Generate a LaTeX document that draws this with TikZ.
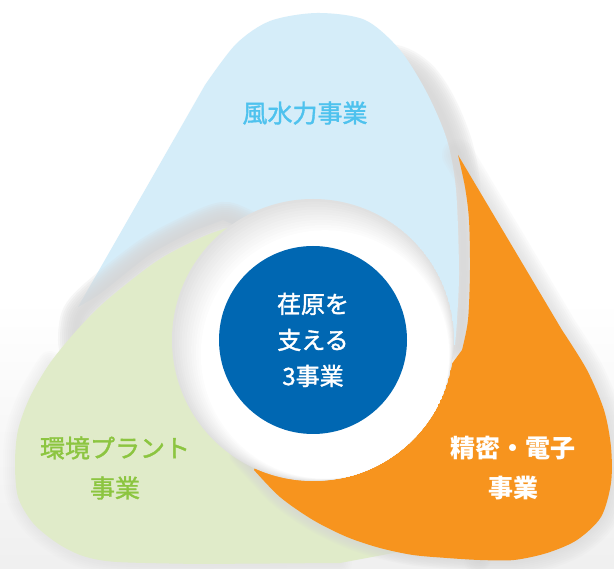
\documentclass[tikz,border=0pt]{standalone}
\usepackage{fontspec}
\setmainfont{Noto Sans CJK JP}
\newfontfamily\jpmed[FakeBold=1.5]{Noto Sans CJK JP}
\usetikzlibrary{calc}
\definecolor{windc}{HTML}{D5EDF9}
\definecolor{windt}{HTML}{4EC2EE}
\definecolor{plantc}{HTML}{E0EBC9}
\definecolor{plantt}{HTML}{8CC540}
\definecolor{precc}{HTML}{F7941E}
\definecolor{corec}{HTML}{0067B2}
\definecolor{shadec}{HTML}{D6D6D6}
\tikzset{
  shd/.style={line width=#1,shadec,opacity=0.18,line cap=round},
  lbl/.style={align=center,font=\jpmed\fontsize{25pt}{40pt}\selectfont}
}

\begin{document}
\begin{tikzpicture}[x=1pt,y=-1pt]
\useasboundingbox (0,0) rectangle (614,569);
\fill[white] (0,0) rectangle (614,569);
\shade[top color=white,bottom color=gray!12] (0,300) rectangle (614,569);
% wind petal (top)
\foreach \w in {4,8,...,40}
  \draw[shd=\w pt,shift={(4,2)}] plot[smooth] coordinates {(330,70) (385,62) (413,76) (433,105) (449,145) (457,190) (460,270) (458,320) (456,345)};
\fill[windc] (78,307) -- plot[smooth] coordinates {(205,85) (236,44) (270,21) (317,13) (365,20) (400,50) (427,93) (447,140) (456,190) (459,270) (457,320) (455,345)}
  -- (313,340) -- (250,232) -- (223,220) -- plot[smooth] coordinates {(196,230) (151,254) (101,293) (78,307)} -- cycle;
% plant petal (left)
\foreach \w in {4,8,...,36}
  \draw[shd=\w pt,opacity=0.2] plot[smooth] coordinates {(268,240) (240,225) (223,220) (196,230) (151,254) (101,293) (80,315) (76,340) (80,360)};
\foreach \w in {4,8,...,24}
  \draw[shd=\w pt,opacity=0.06] plot[smooth] coordinates {(50,363) (30,397) (18,430) (15,463) (18,497) (33,523) (57,543) (83,556) (117,562) (200,564) (340,563)};
\fill[plantc] (227,228) -- plot[smooth] coordinates {(227,228) (200,238) (157,261) (107,300) (77,330) (50,363) (30,397) (18,430) (15,463) (18,497) (33,523) (57,543) (83,556) (117,562) (200,564)} -- (340,563) -- (420,548) -- (313,340) -- cycle;
% precision petal (right)
\foreach \w in {4,8,...,32}
  \draw[shd=\w pt,opacity=0.1] (458,155) -- plot[smooth] coordinates {(562,330) (587,370) (604,410) (611,447) (611,483) (601,517) (577,540) (547,553) (514,560) (480,560)};
\foreach \w in {3,6,...,21}
  \draw[shd=\w pt,opacity=0.15] plot[smooth] coordinates {(240,455) (254,470) (280,497) (313,520) (347,537) (380,548) (413,555) (447,558) (480,560)};
\fill[precc] (458,155) -- plot[smooth] coordinates {(562,330) (587,370) (604,410) (611,447) (611,483) (601,517) (577,540) (547,553) (514,560) (480,560) (447,558) (413,555) (380,548) (347,537) (313,520) (280,497) (254,470)} -- (313,340) -- (440,380) -- plot[smooth] coordinates {(462,350) (468,320) (470,270) (469,220) (465,187) (458,155)} -- cycle;
% ring round the core
\begin{scope}
  \clip (313,340) circle (141pt);
  \foreach \k [evaluate=\k as \g using 24-2*\k] in {0,...,12}
    \fill[gray!\g] ($(313,340)+(\k,1.2*\k)$) circle ({(141-1.4*\k)*1pt});
\end{scope}
\node[circle,fill=corec,minimum size=188pt,inner sep=0pt,text=white,align=center,
  font=\jpmed\fontsize{24pt}{36pt}\selectfont] (core) at (313,340) {荏原を\\支える\\3事業};
\node[lbl,text=windt] (wind) at (305,113) {風水力事業};
\node[lbl,text=plantt] (plant) at (115,468) {環境プラント\\事業};
\node[lbl,text=white,font=\bfseries\fontsize{25pt}{40pt}\selectfont] (prec) at (513,468) {精密・電子\\事業};
\end{tikzpicture}
\end{document}
